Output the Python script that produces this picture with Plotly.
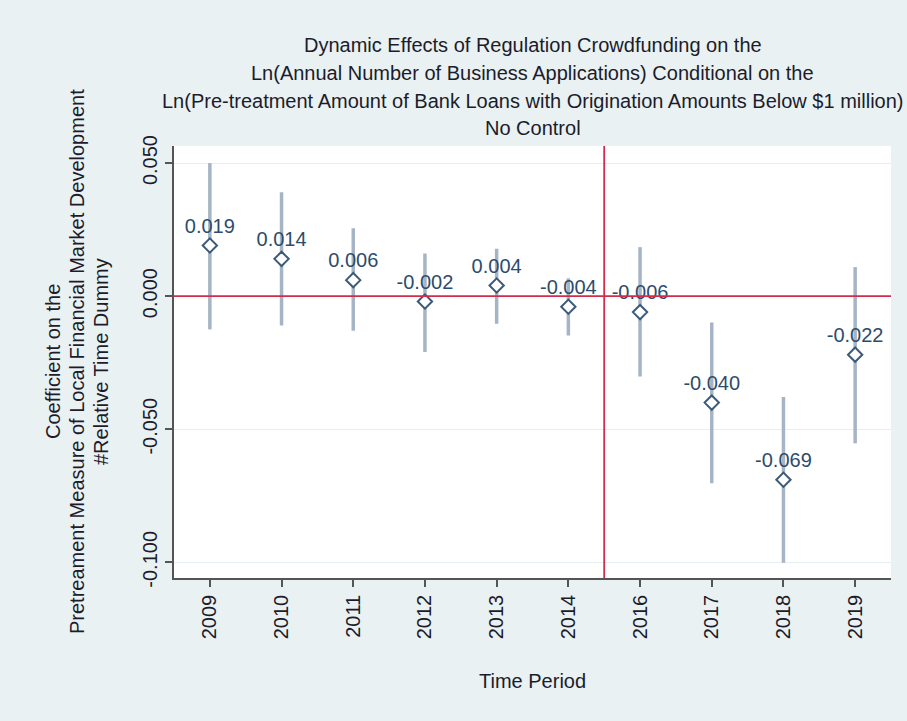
import plotly.graph_objects as go

# Event-study estimates by year (2015 omitted as the reference period)
years = ["2009", "2010", "2011", "2012", "2013", "2014", "2016", "2017", "2018", "2019"]
coef = [0.019, 0.014, 0.006, -0.002, 0.004, -0.004, -0.006, -0.040, -0.069, -0.022]
ci_upper = [0.050, 0.039, 0.0255, 0.016, 0.0178, 0.0067, 0.0184, -0.0099, -0.0379, 0.0109]
ci_lower = [-0.0125, -0.011, -0.0130, -0.021, -0.0104, -0.0148, -0.0302, -0.0703, -0.1002, -0.0553]
coef_labels = ["0.019", "0.014", "0.006", "-0.002", "0.004", "-0.004", "-0.006", "-0.040", "-0.069", "-0.022"]

y_ticks = [0.05, 0.0, -0.05, -0.1]
y_tick_labels = ["0.050", "0.000", "-0.050", "-0.100"]

title_lines = [
    "Dynamic Effects of Regulation Crowdfunding on the",
    "Ln(Annual Number of Business Applications) Conditional on the",
    "Ln(Pre-treatment Amount of Bank Loans with Origination Amounts Below $1 million)",
    "No Control",
]
ytitle_lines = [
    "Coefficient on the",
    "Pretreament Measure of Local Financial Market Development",
    "#Relative Time Dummy",
]

pos = list(range(1, len(years) + 1))
# treatment boundary sits between the last pre-period and first post-period
boundary = (pos[years.index("2014")] + pos[years.index("2016")]) / 2

err_plus = [u - c for u, c in zip(ci_upper, coef)]
err_minus = [c - l for c, l in zip(coef, ci_lower)]

FONT = "Arial, Liberation Sans, sans-serif"
BG = "#e9f1f3"
TXT = "#1c1c2a"
FS = 20

fig = go.Figure()
fig.add_trace(go.Scatter(
    x=pos, y=coef, mode="markers+text",
    text=coef_labels, textposition="top center",
    textfont=dict(family=FONT, size=FS, color="#2d4c6c"),
    marker=dict(symbol="diamond", size=11, color="white",
                line=dict(color="#3c5a7a", width=2)),
    error_y=dict(type="data", symmetric=False, array=err_plus, arrayminus=err_minus,
                 color="#a5b5c5", thickness=3.5, width=0),
    showlegend=False, cliponaxis=False,
))

# reference lines: zero effect and treatment boundary
fig.add_shape(type="line", xref="paper", x0=0, x1=1, yref="y", y0=0, y1=0,
              line=dict(color="#d42a4c", width=1.8), layer="above")
fig.add_shape(type="line", xref="x", x0=boundary, x1=boundary, yref="paper", y0=0, y1=1,
              line=dict(color="#d42a4c", width=1.8), layer="above")

plot_top, plot_bottom, plot_left, plot_right = 146, 578, 174, 891
ph = plot_bottom - plot_top
pw = plot_right - plot_left

annotations = []
for line, py in zip(title_lines, [45, 73, 101, 128]):
    annotations.append(dict(text=line, xref="paper", yref="paper", x=0.5,
                            y=(plot_bottom - py) / ph, xanchor="center", yanchor="middle",
                            showarrow=False, font=dict(family=FONT, size=FS, color=TXT)))
for line, px in zip(ytitle_lines, [53, 77, 101]):
    annotations.append(dict(text=line, xref="paper", yref="paper", x=(px - plot_left) / pw,
                            y=0.5, xanchor="center", yanchor="middle", textangle=-90,
                            showarrow=False, font=dict(family=FONT, size=FS, color=TXT)))
annotations.append(dict(text="Time Period", xref="paper", yref="paper", x=0.5,
                        y=(plot_bottom - 681) / ph, xanchor="center", yanchor="middle",
                        showarrow=False, font=dict(family=FONT, size=FS, color=TXT)))

fig.update_layout(
    width=907, height=721,
    margin=dict(l=plot_left, r=907 - plot_right, t=plot_top, b=721 - plot_bottom),
    paper_bgcolor=BG, plot_bgcolor="white",
    font=dict(family=FONT, size=FS, color=TXT),
    annotations=annotations,
    xaxis=dict(range=[0.5, 10.5], tickmode="array", tickvals=pos, ticktext=years,
               tickangle=-90, ticks="outside", ticklen=7, tickwidth=1.5, tickcolor="#555",
               showline=True, linecolor="#555", linewidth=1.5, showgrid=False, zeroline=False,
               tickfont=dict(family=FONT, size=FS, color=TXT)),
    yaxis=dict(range=[-0.1059, 0.0564], tickmode="array", tickvals=y_ticks, ticktext=y_tick_labels,
               tickangle=-90, ticks="outside", ticklen=7, tickwidth=1.5, tickcolor="#555",
               showline=True, linecolor="#555", linewidth=1.5, showgrid=True,
               gridcolor="#e6eef1", gridwidth=1, zeroline=False,
               tickfont=dict(family=FONT, size=FS, color=TXT)),
)

fig.write_html("out.html")
